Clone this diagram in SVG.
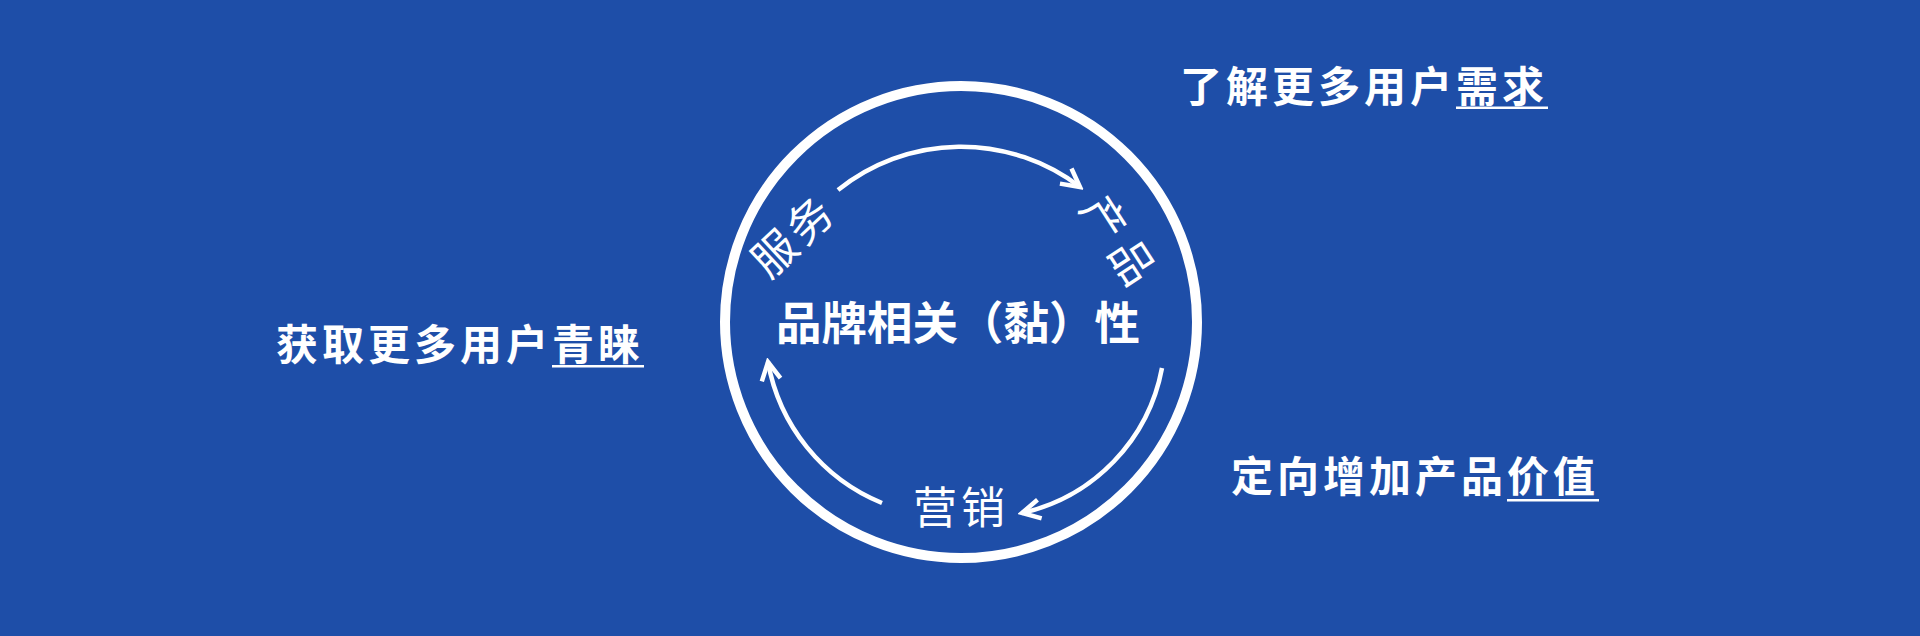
<svg xmlns="http://www.w3.org/2000/svg" width="1920" height="636" viewBox="0 0 1920 636">
<style>
.cjk{font-family:"Noto Sans CJK SC","Noto Sans",sans-serif;fill:#ffffff}
.b{font-weight:700;font-size:42px;letter-spacing:4px}
.lbl{font-weight:400;font-size:44px}
.arc{fill:none;stroke:#ffffff;stroke-width:4.5;stroke-linecap:butt}
.ul{fill:#ffffff}
</style>
<defs>
<marker id="chev" markerUnits="userSpaceOnUse" viewBox="-24 -14 28 28" refX="0" refY="0" markerWidth="28" markerHeight="28" orient="auto">
<path d="M -18 -9.5 L 0 0 L -18 9.5" fill="none" stroke="#ffffff" stroke-width="4.5" stroke-linejoin="miter"/>
</marker>
</defs>
<rect x="0" y="0" width="1920" height="636" fill="#1e4ea8"/>
<g id="ring">
<circle cx="961" cy="322" r="236" fill="none" stroke="#ffffff" stroke-width="10"/>
</g>
<g id="connectors">
<path class="arc" d="M 838 190 A 196 196 0 0 1 1080 187" marker-end="url(#chev)"/>
<path class="arc" d="M 1162 368 A 183 183 0 0 1 1022 513" marker-end="url(#chev)"/>
<path class="arc" d="M 882 503 A 188 188 0 0 1 768 362" marker-end="url(#chev)"/>
</g>
<g id="center">
<text class="cjk" x="958" y="340" text-anchor="middle" font-size="45.5" font-weight="700">品牌相关（黏）性</text>
</g>
<g id="service">
<text class="cjk lbl" transform="translate(792 237) rotate(-43)" x="2" y="16" text-anchor="middle" letter-spacing="4">服务</text>
</g>
<g id="product">
<text class="cjk lbl" transform="translate(1118 240) rotate(57)" x="4" y="16" text-anchor="middle" letter-spacing="8">产品</text>
</g>
<g id="marketing">
<text class="cjk lbl" x="913" y="524" font-size="41" letter-spacing="4">营销</text>
</g>
<g id="need">
<text class="cjk b" x="1180" y="102">了解更多用户需求</text>
<rect class="ul" x="1456" y="106.5" width="92" height="2.5"/>
</g>
<g id="favor">
<text class="cjk b" x="276" y="360">获取更多用户青睐</text>
<rect class="ul" x="552" y="365" width="92" height="2.5"/>
</g>
<g id="value">
<text class="cjk b" x="1231" y="492">定向增加产品价值</text>
<rect class="ul" x="1507" y="499" width="92" height="2.5"/>
</g>
</svg>
